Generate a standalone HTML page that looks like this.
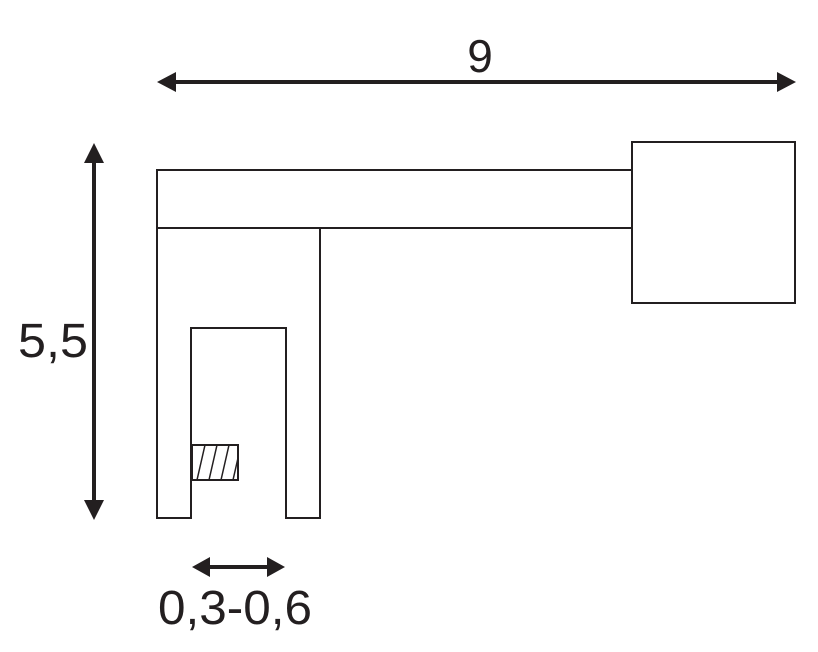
<!DOCTYPE html>
<html><head><style>
body{margin:0;background:#fff;width:818px;height:652px;overflow:hidden}
svg{display:block}
text{font-family:"Liberation Sans",Arial,sans-serif;fill:#231f20}
</style></head><body>
<svg width="818" height="652" viewBox="0 0 818 652">
<g fill="none" stroke="#231f20" stroke-width="2">
<rect x="157" y="170" width="475" height="58"/>
<rect x="632" y="142" width="163" height="161"/>
<path d="M157 228 V518 H191 V328 H286 V518 H320 V228"/>
<rect x="192" y="445" width="46" height="35"/>
<path d="M197 480 L205 445 M209 480 L217 445 M221 480 L229 445 M233 480 L238 458" stroke-width="1.5"/>
</g>
<g stroke="#231f20" stroke-width="4" fill="#231f20">
<line x1="170" y1="82" x2="782" y2="82"/>
<line x1="94" y1="160" x2="94" y2="504"/>
<line x1="205" y1="567" x2="272" y2="567"/>
<path d="M157 82 L176 72 L176 92 Z M796 82 L777 72 L777 92 Z" stroke="none"/>
<path d="M94 143 L84 163 L104 163 Z M94 520 L84 500 L104 500 Z" stroke="none"/>
<path d="M192 567 L210 557 L210 577 Z M285 567 L267 557 L267 577 Z" stroke="none"/>
</g>
<text x="480" y="72" font-size="46" text-anchor="middle">9</text>
<text x="53" y="357" font-size="48" text-anchor="middle" textLength="70" lengthAdjust="spacingAndGlyphs">5,5</text>
<text x="235" y="624" font-size="48" text-anchor="middle" textLength="154" lengthAdjust="spacingAndGlyphs">0,3-0,6</text>
</svg>
</body></html>
